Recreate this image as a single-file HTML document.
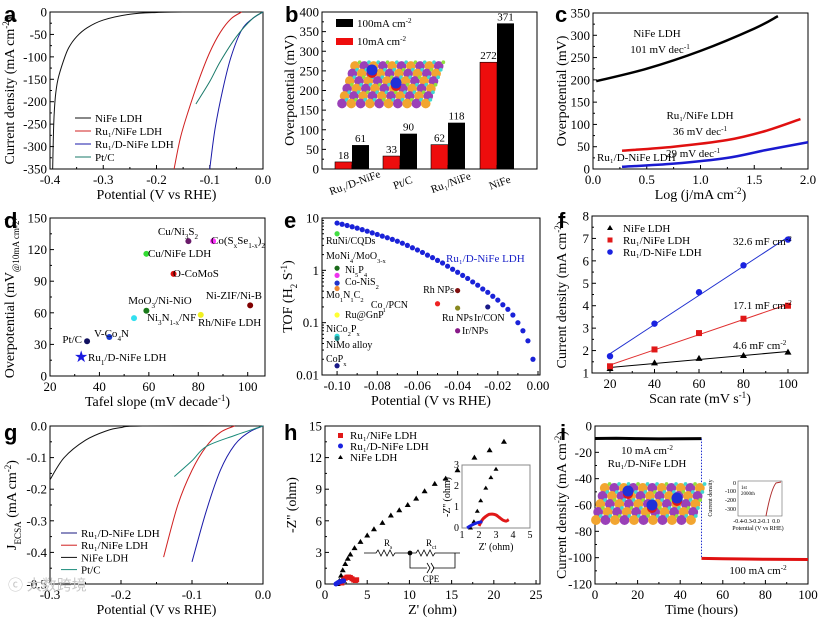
<!DOCTYPE html>
<html><head><meta charset="utf-8">
<style>
html,body{margin:0;padding:0;background:#fff;}
svg{display:block;font-family:"Liberation Serif",serif;}
.pl{font-family:"Liberation Sans",sans-serif;font-weight:bold;font-size:22px;}
</style></head>
<body>
<svg id="fig" width="821" height="619" viewBox="0 0 821 619" xmlns="http://www.w3.org/2000/svg">
<text class="pl" x="4" y="22">a</text>
<text class="pl" x="285" y="22">b</text>
<text class="pl" x="555" y="22">c</text>
<text class="pl" x="4" y="228">d</text>
<text class="pl" x="284" y="228">e</text>
<text class="pl" x="558" y="228">f</text>
<text class="pl" x="4" y="440">g</text>
<text class="pl" x="284" y="440">h</text>
<text class="pl" x="560" y="440">i</text>
</svg>
<script>
// ---------- DATA ----------
// a
const aNiFeX=[0,-0.15,-0.2,-0.25,-0.3,-0.33,-0.35,-0.365,-0.375,-0.385,-0.39,-0.393,-0.395];
const aNiFeY=[0,0,-1,-5,-18,-35,-55,-80,-110,-150,-190,-250,-350];
const aRuX=[-0.04,-0.06,-0.08,-0.1,-0.12,-0.14,-0.155,-0.167];
const aRuY=[0,-15,-45,-90,-150,-220,-280,-350];
const aRuDX=[0,-0.02,-0.04,-0.06,-0.075,-0.09,-0.1];
const aRuDY=[0,-15,-40,-100,-170,-260,-350];
const aPtX=[0,-0.02,-0.05,-0.08,-0.1,-0.126];
const aPtY=[0,-15,-55,-110,-155,-205];
const aXTicks=[-0.4,-0.3,-0.2,-0.1,0.0];
const aYTicks=[0,-50,-100,-150,-200,-250,-300,-350];
// b
const bCats=["Ru₁/D-NiFe","Pt/C","Ru₁/NiFe","NiFe"];
const b10=[18,33,62,272];
const b100=[61,90,118,371];
const bYTicks=[0,50,100,150,200,250,300,350,400];
// c
const cNiFeX=[0.03,0.5,1.0,1.5,1.72];
const cNiFeY=[197,225,265,315,343];
const cRuX=[0.27,0.75,1.25,1.6,1.93];
const cRuY=[41,50,65,85,112];
const cRuDX=[0.27,0.75,1.25,1.6,2.0];
const cRuDY=[5,12,25,42,60];
const cXTicks=[0,0.5,1.0,1.5,2.0];
const cYTicks=[0,50,100,150,200,250,300,350];
// d
const dNames=["Cu/Ni₃S₂","Co(SₓSe₁₋ₓ)₂","Cu/NiFe LDH","O-CoMoS","MoO₃/Ni-NiO","Ni₃N₁₋ₓ/NF","Rh/NiFe LDH","Ni-ZIF/Ni-B","V-Co₄N","Pt/C"];
const dTafel=[76,86,59,70,59,54,81,101,44,35];
const dOver=[128,128,116,97,62,55,58,67,37,33];
const dColors=["#6a1b6a","#ff33ff","#33dd33","#e01010","#1a7a1a","#33e0f0","#f0f020","#800000","#1a3ad0","#101060"];
const dStarX=[32.6]; const dStarY=[18];
const dXTicks=[20,40,60,80,100];
const dYTicks=[0,30,60,90,120,150];
// e
const eX=[-0.1,-0.0975,-0.095,-0.0925,-0.09,-0.0875,-0.085,-0.0825,-0.08,-0.0775,-0.075,-0.0725,-0.07,-0.0675,-0.065,-0.0625,-0.06,-0.0575,-0.055,-0.0525,-0.05,-0.0475,-0.045,-0.0425,-0.04,-0.0375,-0.035,-0.0325,-0.03,-0.0275,-0.025,-0.0225,-0.02,-0.0175,-0.015,-0.0125,-0.01,-0.0075,-0.005,-0.0025];
const eY=[8.0,7.6,7.2,6.8,6.4,6.0,5.6,5.2,4.85,4.5,4.2,3.9,3.6,3.3,3.0,2.7,2.45,2.2,1.95,1.75,1.55,1.38,1.2,1.05,0.92,0.8,0.7,0.6,0.52,0.44,0.38,0.32,0.27,0.22,0.18,0.14,0.10,0.07,0.045,0.02];
const eRefX=[-0.1,-0.1,-0.1,-0.1,-0.1,-0.1,-0.1,-0.1,-0.1,-0.05,-0.04,-0.04,-0.04,-0.025];
const eRefY=[5,1.1,0.8,0.57,0.45,0.14,0.055,0.05,0.015,0.23,0.41,0.19,0.07,0.2];
const eRefC=["#44dd44","#1a6a1a","#ee33ee","#2233cc","#ee8833","#ffff33","#33dddd","#228888","#1a1a88","#ee2222","#801010","#888820","#881a88","#1a1a88"];
const eXTicks=[-0.1,-0.08,-0.06,-0.04,-0.02,0];
const eYTicks=[0.01,0.1,1,10];
const eYLabels=["0.01","0.1","1","10"];
// f
const fX=[20,40,60,80,100];
const fNiFe=[1.2,1.45,1.65,1.78,1.93];
const fRu=[1.3,2.05,2.78,3.42,4.0];
const fRuD=[1.75,3.2,4.6,5.8,6.95];
const fXTicks=[20,40,60,80,100];
const fYTicks=[1,2,3,4,5,6,7,8];
// g
const gNiFeX=[-0.3,-0.28,-0.25,-0.22,-0.2,-0.17,0];
const gNiFeY=[-0.17,-0.1,-0.045,-0.015,-0.005,0,0];
const gRuX=[-0.04,-0.06,-0.08,-0.1,-0.12,-0.14];
const gRuY=[0,-0.02,-0.065,-0.14,-0.25,-0.415];
const gRuDX=[0,-0.02,-0.04,-0.06,-0.08,-0.1];
const gRuDY=[0,-0.02,-0.06,-0.14,-0.27,-0.43];
const gPtX=[0,-0.04,-0.08,-0.1,-0.125];
const gPtY=[0,-0.03,-0.065,-0.11,-0.16];
const gXTicks=[-0.3,-0.2,-0.1,0.0];
const gYTicks=[0,-0.1,-0.2,-0.3,-0.4,-0.5];
// h
const hNiFeX=[1.5,1.7,1.9,2.1,2.4,2.7,3.0,3.5,4.2,5.0,5.8,6.8,7.8,8.8,9.8,10.8,11.8,13.0,14.3,15.7,17.7,19.5,21.2];
const hNiFeY=[0,0.3,0.8,1.3,1.9,2.4,2.8,3.4,4.0,4.6,5.2,5.8,6.5,7.0,7.5,8.1,8.8,9.5,10.0,10.8,12.0,12.7,13.5];
const hRuX=[2.0,2.2,2.4,2.6,2.8,3.0,3.2,3.4,3.6,3.75];
const hRuY=[0.1,0.4,0.55,0.65,0.66,0.62,0.5,0.38,0.33,0.4];
const hRuDX=[1.3,1.45,1.6,1.75,1.9,2.05,2.2];
const hRuDY=[0,0.08,0.15,0.2,0.25,0.28,0.3];
const hXTicks=[0,5,10,15,20,25];
const hYTicks=[0,3,6,9,12,15];
// i
const iT1=[0,10,20,30,40,50];
const iJ1=[-9.5,-9.3,-9.6,-9.8,-9.7,-9.6];
const iT2=[50,60,70,80,90,100];
const iJ2=[-100.5,-100.8,-101,-101.2,-101.3,-101.4];
const iXTicks=[0,20,40,60,80,100];
const iYTicks=[0,-20,-40,-60,-80,-100,-120];

// ---------- HELPERS ----------
const NS='http://www.w3.org/2000/svg';
const svg=document.getElementById('fig');
function add(tag,attrs,name,parent){
  const e=document.createElementNS(NS,tag);
  for(const k in attrs) e.setAttribute(k,attrs[k]);
  
  
  (parent||svg).appendChild(e);
  return e;
}
function rich(x,y,str,opts,name,parent){
  opts=opts||{};
  const t=add('text',{x:x,y:y,'font-size':opts.fs||13,'text-anchor':opts.anchor||'start',fill:opts.fill||'#000'},name,parent);
  if(opts.rot) t.setAttribute('transform','rotate('+opts.rot+' '+x+' '+y+')');
  const parts=str.split(/(\^\{[^}]*\}|_\{[^}]*\})/);
  parts.forEach(p=>{
    if(!p) return;
    const ts=document.createElementNS(NS,'tspan');
    if(p[0]==='^'||p[0]==='_'){
      ts.textContent=p.slice(2,-1);
      ts.setAttribute('baseline-shift',p[0]==='^'?'super':'sub');
      ts.setAttribute('font-size','65%');
    } else ts.textContent=p;
    t.appendChild(ts);
  });
  return t;
}
function smooth(pts){
  if(pts.length<2) return '';
  let d='M'+pts[0][0]+','+pts[0][1];
  for(let i=0;i<pts.length-1;i++){
    const p0=pts[i-1]||pts[i],p1=pts[i],p2=pts[i+1],p3=pts[i+2]||p2;
    const c1=[p1[0]+(p2[0]-p0[0])/6,p1[1]+(p2[1]-p0[1])/6];
    const c2=[p2[0]-(p3[0]-p1[0])/6,p2[1]-(p3[1]-p1[1])/6];
    d+=' C'+c1[0]+','+c1[1]+' '+c2[0]+','+c2[1]+' '+p2[0]+','+p2[1];
  }
  return d;
}
function axes(p){
  const lx=v=>p.L+(v-p.xd[0])/(p.xd[1]-p.xd[0])*(p.R-p.L);
  const ly=p.ylog?(v=>p.B-(Math.log10(v)-Math.log10(p.yd[0]))/(Math.log10(p.yd[1])-Math.log10(p.yd[0]))*(p.B-p.T))
                 :(v=>p.B-(v-p.yd[0])/(p.yd[1]-p.yd[0])*(p.B-p.T));
  const g=add('g',{},p.name+'-axes');
  add('rect',{x:p.L,y:p.T,width:p.R-p.L,height:p.B-p.T,fill:'none',stroke:'#000','stroke-width':1},p.name+'-plot-frame',g);
  if(p.xt){p.xt.forEach((v,i)=>{
    const x=lx(v);
    add('line',{x1:x,x2:x,y1:p.B,y2:p.B-4,stroke:'#000'},p.name+'-x-tick',g);
    const lab=p.xl?p.xl[i]:v.toFixed(p.xdec||0);
    rich(x,p.B+15,lab,{anchor:'middle',fs:13},p.name+'-x-tick-label',g);
    if(i<p.xt.length-1){const xm=lx((v+p.xt[i+1])/2);
      add('line',{x1:xm,x2:xm,y1:p.B,y2:p.B-2,stroke:'#000'},p.name+'-x-minor-tick',g);}
  });}
  p.yt.forEach((v,i)=>{
    const y=ly(v);
    add('line',{x1:p.L,x2:p.L+4,y1:y,y2:y,stroke:'#000'},p.name+'-y-tick',g);
    const lab=p.yl?p.yl[i]:v.toFixed(p.ydec||0);
    rich(p.L-3,y+4.5,lab,{anchor:'end',fs:13},p.name+'-y-tick-label',g);
    if(!p.ylog&&i<p.yt.length-1){const ym=ly((v+p.yt[i+1])/2);
      add('line',{x1:p.L,x2:p.L+2,y1:ym,y2:ym,stroke:'#000'},p.name+'-y-minor-tick',g);}
  });
  if(p.xtitle) rich((p.L+p.R)/2,p.B+30,p.xtitle,{anchor:'middle',fs:14},p.name+'-x-axis-title',g);
  if(p.ytitle) rich(p.ytx,(p.T+p.B)/2,p.ytitle,{anchor:'middle',fs:14,rot:-90},p.name+'-y-axis-title',g);
  return {x:lx,y:ly,g:g};
}
function curve(ax,xs,ys,color,name,w){
  const pts=xs.map((v,i)=>[ax.x(v),ax.y(ys[i])]);
  add('path',{d:smooth(pts),fill:'none',stroke:color,'stroke-width':w||1},name);
}
function molecule(x0,y0,cols,rows,dx,dy,skew,bigs,name){
  const g=add('g',{},name);
  for(let r=0;r<rows;r++){for(let c=0;c<cols;c++){
    const cx=x0+c*dx+(rows-1-r)*skew, cy=y0+r*dy;
    add('circle',{cx:cx,cy:cy,r:dx*0.52,fill:((r+c)%2)?'#9a40b8':'#f2a530'},name+'-atom',g);
    add('circle',{cx:cx+dx/2,cy:cy-dy/2,r:dx*0.2,fill:((r+c)%3)?'#40d8d0':'#90e040'},name+'-small-atom',g);
  }}
  bigs.forEach(b=>{
    add('circle',{cx:b[0],cy:b[1]+3,r:5,fill:'#e01818'},name+'-red-atom',g);
    add('circle',{cx:b[0],cy:b[1],r:5.5,fill:'#2030d8'},name+'-ru-atom',g);
  });
}

// ---------- PANEL A ----------
{
const ax=axes({name:'a',L:50,R:263,T:12,B:169,xd:[-0.4,0],yd:[-350,0],xt:aXTicks,xdec:1,yt:aYTicks,
  xtitle:'Potential (V vs RHE)',ytitle:'Current density (mA cm^{-2})',ytx:14});
curve(ax,aNiFeX,aNiFeY,'#111','a-nife-ldh-curve');
curve(ax,aRuX,aRuY,'#d02020','a-ru-nife-ldh-curve');
curve(ax,aRuDX,aRuDY,'#1a1aa8','a-ru-d-nife-ldh-curve');
curve(ax,aPtX,aPtY,'#1a7a6a','a-ptc-curve');
const lc=['#111','#d02020','#1a1aa8','#1a7a6a'],ln=['NiFe LDH','Ru₁/NiFe LDH','Ru₁/D-NiFe LDH','Pt/C'];
ln.forEach((t,i)=>{const y=118+i*13;
  add('line',{x1:75,x2:91,y1:y,y2:y,stroke:lc[i]},'a-legend-line');
  rich(95,y+4,t,{fs:11},'a-legend-entry');});
}
// ---------- PANEL B ----------
{
const ax=axes({name:'b',L:322,R:537,T:12,B:169,xd:[0,1],yd:[0,400],yt:bYTicks,ytitle:'Overpotential (mV)',ytx:294});
const centers=[352,400,448,497];
bCats.forEach((c,i)=>{
  const cx=centers[i];
  const y10=ax.y(b10[i]),y100=ax.y(b100[i]);
  add('rect',{x:cx-17,y:y10,width:17,height:169-y10,fill:'#ee0d0d',stroke:'#000','stroke-width':0.6},'b-bar-10ma');
  add('rect',{x:cx,y:y100,width:17,height:169-y100,fill:'#000'},'b-bar-100ma');
  rich(cx-8.5,y10-3,String(b10[i]),{anchor:'middle',fs:11},'b-value-label-10ma');
  rich(cx+8.5,y100-3,String(b100[i]),{anchor:'middle',fs:11},'b-value-label-100ma');
  rich(cx+4,186,c,{anchor:'middle',fs:11,rot:-20},'b-category-label');
  add('line',{x1:cx,x2:cx,y1:169,y2:165,stroke:'#000'},'b-x-tick');
});
add('rect',{x:336,y:19,width:17,height:8,fill:'#000'},'b-legend-swatch-100');
rich(357,27,'100mA cm^{-2}',{fs:11},'b-legend-entry-100');
add('rect',{x:336,y:38,width:17,height:7,fill:'#ee0d0d'},'b-legend-swatch-10');
rich(357,45,'10mA cm^{-2}',{fs:11},'b-legend-entry-10');
molecule(342,66,10,6,9.3,7.5,2.6,[[372,70],[396,83]],'b-structure-image');
}
// ---------- PANEL C ----------
{
const ax=axes({name:'c',L:593,R:808,T:13,B:169,xd:[0,2],yd:[0,350],xt:cXTicks,xdec:1,yt:cYTicks,
  xtitle:'Log (j/mA cm^{-2})',ytitle:'Overpotential (mV)',ytx:566});
curve(ax,cNiFeX,cNiFeY,'#000','c-nife-tafel-line',2.5);
curve(ax,cRuX,cRuY,'#e01010','c-ru-nife-tafel-line',2.5);
curve(ax,cRuDX,cRuDY,'#1a1ad0','c-ru-d-nife-tafel-line',2.5);
rich(657,37,'NiFe LDH',{anchor:'middle',fs:11},'c-nife-label');
rich(660,53,'101 mV dec^{-1}',{anchor:'middle',fs:11},'c-nife-slope');
rich(700,119,'Ru₁/NiFe LDH',{anchor:'middle',fs:11},'c-ru-nife-label');
rich(700,135,'36 mV dec^{-1}',{anchor:'middle',fs:11},'c-ru-nife-slope');
rich(597,161,'Ru₁/D-NiFe LDH',{fs:11},'c-ru-d-nife-label');
rich(693,157,'29 mV dec^{-1}',{anchor:'middle',fs:11},'c-ru-d-nife-slope');
}
// ---------- PANEL D ----------
{
const ax=axes({name:'d',L:50,R:265,T:218,B:376,xd:[20,107],yd:[0,150],xt:dXTicks,yt:dYTicks,
  xtitle:'Tafel slope (mV decade^{-1})',ytitle:'Overpotential (mV_{@10mA cm-2})',ytx:14});
dNames.forEach((n,i)=>{
  add('circle',{cx:ax.x(dTafel[i]),cy:ax.y(dOver[i]),r:3,fill:dColors[i]},'d-point');
});
add('text',{x:ax.x(dStarX[0]),y:ax.y(dStarY[0])+5,'font-size':16,'text-anchor':'middle',fill:'#1a1ae0'},'d-star-ru-d-nife').textContent='★';
const L=[[178,235,'middle','Cu/Ni_{3}S_{2}'],[211,244,'start','Co(S_{x}Se_{1-x})_{2}'],[148,257,'start','Cu/NiFe LDH'],[173,277,'start','O-CoMoS'],
 [262,299,'end','Ni-ZIF/Ni-B'],[160,304,'middle','MoO_{3}/Ni-NiO'],[147,321,'start','Ni_{3}N_{1-x}/NF'],[198,326,'start','Rh/NiFe LDH'],
 [94,337,'start','V-Co_{4}N'],[82,343,'end','Pt/C'],[88,361,'start','Ru_{1}/D-NiFe LDH']];
L.forEach(l=>rich(l[0],l[1],l[3],{anchor:l[2],fs:11},'d-point-label'));
}
// ---------- PANEL E ----------
{
const ax=axes({name:'e',L:322,R:540,T:218,B:375,xd:[-0.1075,0.001],yd:[0.01,10],ylog:true,xt:eXTicks,xl:['-0.10','-0.08','-0.06','-0.04','-0.02','0.00'],
  yt:eYTicks,yl:eYLabels,xtitle:'Potential (V vs RHE)',ytitle:'TOF (H_{2} S^{-1})',ytx:292});
[0.02,0.03,0.04,0.05,0.06,0.07,0.08,0.09,0.2,0.3,0.4,0.5,0.6,0.7,0.8,0.9,2,3,4,5,6,7,8,9].forEach(v=>{
  const y=ax.y(v);add('line',{x1:322,x2:324,y1:y,y2:y,stroke:'#000'},'e-y-minor-tick');});
eX.forEach((x,i)=>add('circle',{cx:ax.x(x),cy:ax.y(eY[i]),r:2.6,fill:'#1a22d8'},'e-ru-d-nife-point'));
eRefX.forEach((x,i)=>add('circle',{cx:ax.x(x),cy:ax.y(eRefY[i]),r:2.6,fill:eRefC[i]},'e-reference-point'));
const L=[[326,244,'start','RuNi/CQDs'],[326,259,'start','MoNi_{4}/MoO_{3-x}'],[345,273,'start','Ni_{5}P_{4}'],[345,285,'start','Co-NiS_{2}'],
 [326,298,'start','Mo_{1}N_{1}C_{2}'],[345,318,'start','Ru@GnP'],[326,332,'start','NiCo_{2}P_{x}'],[326,348,'start','NiMo alloy'],[326,362,'start','CoP_{x}'],
 [408,308,'end','Co_{1}/PCN'],[454,293,'end','Rh NPs'],[442,321,'start','Ru NPs'],[474,321,'start','Ir/CON'],[462,334,'start','Ir/NPs']];
L.forEach(l=>rich(l[0],l[1],l[3],{anchor:l[2],fs:10},'e-catalyst-label'));
rich(446,262,'Ru₁/D-NiFe LDH',{fs:11,fill:'#1a22c8'},'e-series-label');
}
// ---------- PANEL F ----------
{
const ax=axes({name:'f',L:592,R:808,T:216,B:373,xd:[11.9,109],yd:[1,8],xt:fXTicks,yt:fYTicks,
  xtitle:'Scan rate (mV s^{-1})',ytitle:'Current density (mA cm^{-2})',ytx:566});
function fit(xs,ys,color,name){
  const n=xs.length,mx=xs.reduce((a,b)=>a+b)/n,my=ys.reduce((a,b)=>a+b)/n;
  let sxy=0,sxx=0;xs.forEach((x,i)=>{sxy+=(x-mx)*(ys[i]-my);sxx+=(x-mx)*(x-mx);});
  const k=sxy/sxx,b=my-k*mx;
  add('line',{x1:ax.x(xs[0]),y1:ax.y(k*xs[0]+b),x2:ax.x(xs[n-1]),y2:ax.y(k*xs[n-1]+b),stroke:color,'stroke-width':1},name);
}
fit(fX,fNiFe,'#000','f-nife-fit-line');fit(fX,fRu,'#e03030','f-ru-nife-fit-line');fit(fX,fRuD,'#2030d0','f-ru-d-nife-fit-line');
fX.forEach((x,i)=>{
  const px=ax.x(x);
  let y=ax.y(fNiFe[i]);add('path',{d:`M${px},${y-3.5} L${px+3.5},${y+2.5} L${px-3.5},${y+2.5}Z`,fill:'#000'},'f-nife-point');
  y=ax.y(fRu[i]);add('rect',{x:px-3,y:y-3,width:6,height:6,fill:'#e01818'},'f-ru-nife-point');
  y=ax.y(fRuD[i]);add('circle',{cx:px,cy:y,r:3.2,fill:'#1a22e0'},'f-ru-d-nife-point');
});
add('path',{d:'M610,225 L613,230 L607,230Z',fill:'#000'},'f-legend-marker-nife');
rich(623,232,'NiFe LDH',{fs:11},'f-legend-entry-nife');
add('rect',{x:607.5,y:237.5,width:5,height:5,fill:'#e01818'},'f-legend-marker-ru');
rich(623,244,'Ru₁/NiFe LDH',{fs:11},'f-legend-entry-ru');
add('circle',{cx:610,cy:252,r:2.8,fill:'#1a22e0'},'f-legend-marker-rud');
rich(623,256,'Ru₁/D-NiFe LDH',{fs:11},'f-legend-entry-rud');
rich(733,245,'32.6 mF cm^{-2}',{fs:11},'f-slope-label-rud');
rich(733,309,'17.1 mF cm^{-2}',{fs:11},'f-slope-label-ru');
rich(733,349,'4.6 mF cm^{-2}',{fs:11},'f-slope-label-nife');
}
// ---------- PANEL G ----------
{
const ax=axes({name:'g',L:50,R:263,T:426,B:584,xd:[-0.3,0],yd:[-0.5,0],xt:gXTicks,xdec:1,yt:gYTicks,ydec:1,
  xtitle:'Potential (V vs RHE)',ytitle:'J_{ECSA} (mA cm^{-2})',ytx:16});
curve(ax,gNiFeX,gNiFeY,'#111','g-nife-ldh-curve');
curve(ax,gRuX,gRuY,'#d02020','g-ru-nife-ldh-curve');
curve(ax,gRuDX,gRuDY,'#1a1aa8','g-ru-d-nife-ldh-curve');
curve(ax,gPtX,gPtY,'#1a8a7a','g-ptc-curve');
const lc=['#1a1a80','#d02020','#111','#1a8a7a'],ln=['Ru₁/D-NiFe LDH','Ru₁/NiFe LDH','NiFe LDH','Pt/C'];
ln.forEach((t,i)=>{const y=533+i*12.2;
  add('line',{x1:61,x2:77,y1:y,y2:y,stroke:lc[i]},'g-legend-line');
  rich(81,y+4,t,{fs:11},'g-legend-entry');});
rich(8,590,'ⓒ 大数跨境',{fs:15,fill:'#c8c8c8'},'watermark');
}
// ---------- PANEL H ----------
{
const ax=axes({name:'h',L:325,R:540,T:426,B:584,xd:[0,25.47],yd:[0,15],xt:hXTicks,yt:hYTicks,
  xtitle:"Z' (ohm)",ytitle:"-Z'' (ohm)",ytx:296});
hNiFeX.forEach((x,i)=>{const px=ax.x(x),py=ax.y(hNiFeY[i]);
  add('path',{d:`M${px},${py-3} L${px+3},${py+2} L${px-3},${py+2}Z`,fill:'#000'},'h-nife-point');});
hRuX.forEach((x,i)=>add('rect',{x:ax.x(x)-2.5,y:ax.y(hRuY[i])-2.5,width:5,height:5,fill:'#e01818'},'h-ru-nife-point'));
hRuDX.forEach((x,i)=>add('circle',{cx:ax.x(x),cy:ax.y(hRuDY[i]),r:2.5,fill:'#1a22e0'},'h-ru-d-nife-point'));
add('rect',{x:338,y:433,width:5,height:5,fill:'#e01818'},'h-legend-marker-ru');
rich(350,439,'Ru₁/NiFe LDH',{fs:11},'h-legend-entry-ru');
add('circle',{cx:340.5,cy:446,r:2.5,fill:'#1a22e0'},'h-legend-marker-rud');
rich(350,450,'Ru₁/D-NiFe LDH',{fs:11},'h-legend-entry-rud');
add('path',{d:'M340.5,455 L343,459 L338,459Z',fill:'#000'},'h-legend-marker-nife');
rich(350,461,'NiFe LDH',{fs:11},'h-legend-entry-nife');
// inset
const ins={L:462,R:530,T:465,B:528};
const ix=v=>ins.L+(v-1)/4*(ins.R-ins.L), iy=v=>ins.B-v/3*(ins.B-ins.T);
add('rect',{x:ins.L,y:ins.T,width:ins.R-ins.L,height:ins.B-ins.T,fill:'#fff',stroke:'#888'},'h-inset-frame');
[1,2,3,4,5].forEach(v=>rich(ix(v),538,String(v),{anchor:'middle',fs:10},'h-inset-x-tick-label'));
[0,1,2,3].forEach(v=>rich(ins.L-3,iy(v)+3,String(v),{anchor:'end',fs:10},'h-inset-y-tick-label'));
rich(496,550,"Z' (ohm)",{anchor:'middle',fs:10},'h-inset-x-title');
rich(450,497,"-Z'' (ohm)",{anchor:'middle',fs:10,rot:-90},'h-inset-y-title');
hNiFeX.forEach((x,i)=>{if(x<=3.6&&hNiFeY[i]<=3){const px=ix(x),py=iy(hNiFeY[i]);
  add('path',{d:`M${px},${py-2.5} L${px+2.5},${py+1.5} L${px-2.5},${py+1.5}Z`,fill:'#000'},'h-inset-nife-point');}});
add('path',{d:smooth(hRuX.map((x,i)=>[ix(x),iy(hRuY[i])])),fill:'none',stroke:'#e01818','stroke-width':3},'h-inset-ru-nife-curve');
add('path',{d:smooth(hRuDX.map((x,i)=>[ix(x),iy(hRuDY[i])])),fill:'none',stroke:'#1a22e0','stroke-width':3},'h-inset-ru-d-nife-curve');
// circuit
const c=add('g',{fill:'none',stroke:'#000','stroke-width':0.8},'h-equivalent-circuit');
add('path',{d:'M364,553 L376,553 l2,-3 l3,6 l3,-6 l3,6 l3,-6 l3,6 l2,-3 L410,553 L416,553 l2,-3 l3,6 l3,-6 l3,6 l3,-6 l3,6 l2,-3 L455,553 L455,568 L433,568 M427,568 L410,568 L410,553 M455,553 L460,553'},'h-circuit-wires',c);
add('path',{d:'M427,563 l3,5 l-3,5 M431,563 l3,5 l-3,5'},'h-circuit-cpe',c);
add('circle',{cx:410,cy:553,r:2,fill:'#000'},'h-circuit-node',c);
rich(384,546,'R_{s}',{fs:9},'h-circuit-rs-label');
rich(426,546,'R_{ct}',{fs:9},'h-circuit-rct-label');
rich(431,582,'CPE',{anchor:'middle',fs:9},'h-circuit-cpe-label');
}
// ---------- PANEL I ----------
{
const ax=axes({name:'i',L:595,R:808,T:426,B:584,xd:[0,100],yd:[-120,0],xt:iXTicks,yt:iYTicks,
  xtitle:'Time (hours)',ytitle:'Current density (mA cm^{-2})',ytx:566});
add('polyline',{points:iT1.map((t,i)=>ax.x(t)+','+ax.y(iJ1[i])).join(' '),fill:'none',stroke:'#000','stroke-width':3},'i-10ma-trace');
add('polyline',{points:iT2.map((t,i)=>ax.x(t)+','+ax.y(iJ2[i])).join(' '),fill:'none',stroke:'#e01010','stroke-width':3},'i-100ma-trace');
add('line',{x1:ax.x(50),x2:ax.x(50),y1:ax.y(iJ1[5]),y2:ax.y(iJ2[0]),stroke:'#2030d0','stroke-dasharray':'1.5,1.5'},'i-step-line');
rich(647,454,'10 mA cm^{-2}',{anchor:'middle',fs:11},'i-10ma-label');
rich(647,467,'Ru₁/D-NiFe LDH',{anchor:'middle',fs:11},'i-catalyst-label');
rich(758,574,'100 mA cm^{-2}',{anchor:'middle',fs:11},'i-100ma-label');
molecule(596,488,11,5,9.5,8,2.2,[[628,491],[652,505],[677,498]],'i-structure-image');
const ins={L:738,R:782,T:481,B:516};
add('rect',{x:ins.L,y:ins.T,width:ins.R-ins.L,height:ins.B-ins.T,fill:'#fff',stroke:'#666','stroke-width':0.6},'i-inset-frame');
add('path',{d:'M766,516 C769,500 772,488 776,483 L781,482',fill:'none',stroke:'#b03030'},'i-inset-curve');
[['-0.4',738],['-0.3',747],['-0.2',756],['-0.1',765],['0.0',776]].forEach(t=>rich(t[1],523,t[0],{anchor:'middle',fs:6},'i-inset-x-tick-label'));
[['0',483],['-100',491],['-200',500],['-300',509]].forEach(t=>rich(736,t[1]+2,t[0],{anchor:'end',fs:6},'i-inset-y-tick-label'));
rich(758,530,'Potential (V vs RHE)',{anchor:'middle',fs:6},'i-inset-x-title');
rich(712,498,'Current density',{anchor:'middle',fs:6,rot:-90},'i-inset-y-title');
rich(741,489,'1st',{fs:5},'i-inset-legend-1st');
rich(741,495,'2000th',{fs:5},'i-inset-legend-2000th');
}
</script>
</body></html>
